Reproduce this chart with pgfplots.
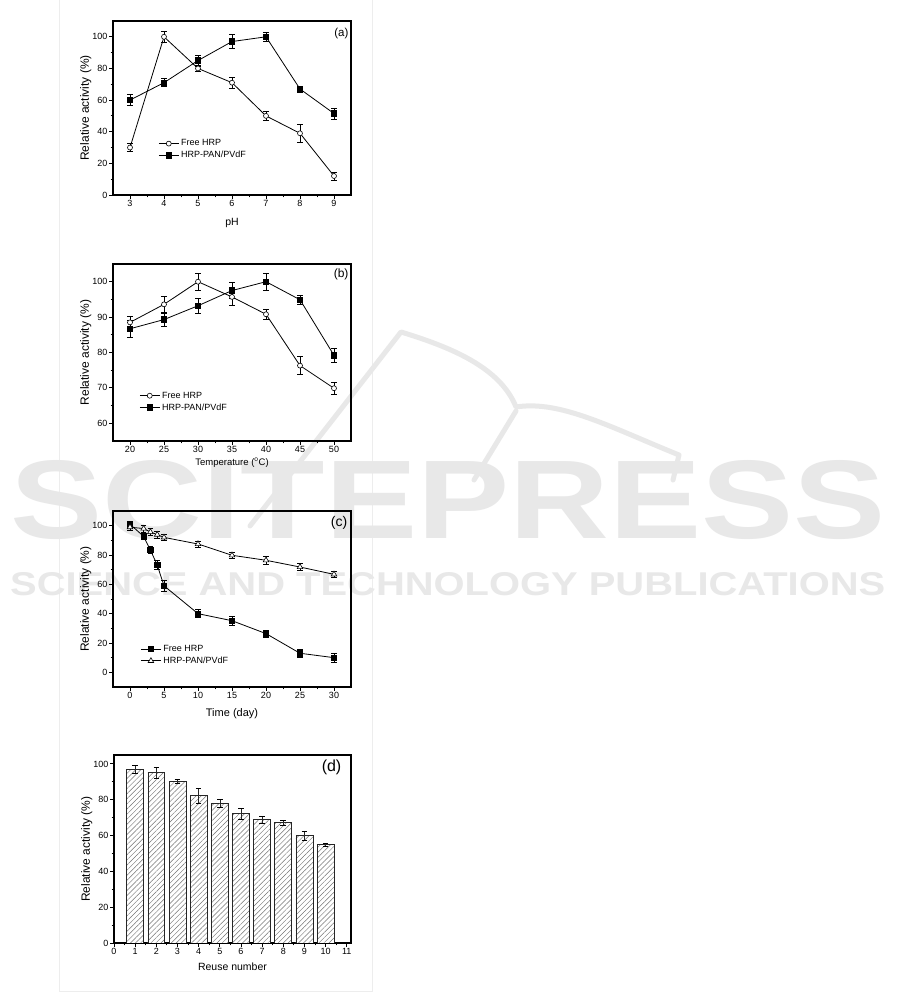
\documentclass[border=0pt]{standalone}
\usepackage{pgfplots}
\pgfplotsset{compat=1.18}
\usetikzlibrary{patterns,patterns.meta}
\usepackage{fontspec}
\setmainfont{Liberation Sans}
\definecolor{wm}{gray}{0.91}
\definecolor{pageborder}{gray}{0.93}

\pgfplotsset{
  panel/.style={
    scale only axis,
    axis line style={line width=1.1pt},
    tick align=outside,
    xtick pos=bottom, ytick pos=left,
    major tick length=4pt, minor tick length=2.5pt,
    every tick/.style={black, line width=0.9pt},
    minor x tick num=1, minor y tick num=1,
    tick label style={font=\fontsize{9}{10.5}\selectfont},
    /pgf/number format/assume math mode=true,
    xticklabel style={inner sep=1.5pt},
    yticklabel style={inner sep=1.5pt},
    ylabel={Relative activity (\%)},
    ylabel style={font=\fontsize{12}{14}\selectfont},
    ylabel shift=-4pt,
    xlabel style={font=\fontsize{10.5}{12}\selectfont},
    legend style={draw=none, fill=none, font=\fontsize{9}{10.5}\selectfont, inner sep=0pt, row sep=0pt, cells={anchor=west}},
    legend image code/.code={\draw[mark repeat=2,mark phase=2] plot coordinates {(0cm,0cm) (0.35cm,0cm) (0.7cm,0cm)};},
    error bars/error bar style={line width=0.6pt, solid},
    error bars/error mark options={rotate=90, mark size=2.8pt, line width=0.6pt, solid},
  },
  opencirc/.style={black, line width=0.8pt, mark=*, mark size=2.5pt, mark options={fill=white, line width=0.6pt}, error bars/y dir=both, error bars/y explicit},
  fillsq/.style={black, line width=0.8pt, mark=square*, mark size=2.7pt, mark options={fill=black}, error bars/y dir=both, error bars/y explicit},
  opentri/.style={black, line width=0.8pt, mark=triangle*, mark size=3.2pt, mark options={fill=white, line width=0.6pt}, error bars/y dir=both, error bars/y explicit},
}

\begin{document}
\begin{tikzpicture}
\useasboundingbox (0pt,0pt) rectangle (901pt,992pt);
\fill[white] (0pt,0pt) rectangle (901pt,992pt);
\draw[pageborder, line width=0.8pt] (59pt,993pt) -- (59pt,1pt) -- (372pt,1pt) -- (372pt,993pt);
% watermark
\begin{scope}[wm, line width=5pt, line cap=round, line join=round]
\draw (250pt,466pt) -- (401pt,660pt) .. controls (450pt,645pt) and (500pt,625pt) .. (516pt,585pt)
      .. controls (560pt,592pt) and (610pt,565pt) .. (679pt,537pt) -- (673pt,512pt);
\draw (516pt,581pt) -- (474pt,512pt);
\end{scope}
\node[anchor=south west, inner sep=0pt, text=wm] at (10pt,452pt) {\resizebox{875pt}{78pt}{\bfseries SCITEPRESS}};
\node[anchor=south west, inner sep=0pt, text=wm] at (10pt,396pt) {\resizebox{875pt}{23pt}{\bfseries SCIENCE AND TECHNOLOGY PUBLICATIONS}};

% (a)
\begin{axis}[panel, at={(113pt,797pt)}, anchor=south west, width=238pt, height=174pt,
  xmin=2.5, xmax=9.5, ymin=0, ymax=110, xtick={3,...,9}, ytick={0,20,...,100},
  xlabel={pH}, xlabel style={yshift=-6pt}, legend style={at={(0.19,0.33)}, anchor=north west}]
\addplot[opencirc] table[x index=0, y index=1, y error index=2] {
3 30 2.5
4 100 3.5
5 80 2
6 71 3.5
7 50 2.8
8 39 5.5
9 12 2.5
};
\addlegendentry{Free HRP}
\addplot[fillsq] table[x index=0, y index=1, y error index=2] {
3 60 3.5
4 71 2.5
5 85 3.5
6 97 4.5
7 100 3
8 67 1.8
9 51.5 3.5
};
\addlegendentry{HRP-PAN/PVdF}
\node[anchor=north east, font=\fontsize{11.5}{13}\selectfont, inner sep=0pt] at (rel axis cs:0.99,0.96) {(a)};
\end{axis}

% (b)
\begin{axis}[panel, at={(113pt,551pt)}, anchor=south west, width=238pt, height=177pt,
  xmin=17.5, xmax=52.5, ymin=55, ymax=105, xtick={20,25,...,50}, ytick={60,70,...,100},
  xlabel={Temperature (\textsuperscript{o}C)}, xlabel style={font=\fontsize{9.5}{11}\selectfont},
  legend style={at={(0.11,0.29)}, anchor=north west}]
\addplot[opencirc] table[x index=0, y index=1, y error index=2] {
20 88.5 1.8
25 93.6 2.2
30 100 2.4
35 95.7 2.3
40 90.8 1.5
45 76.3 2.5
50 69.9 1.6
};
\addlegendentry{Free HRP}
\addplot[fillsq] table[x index=0, y index=1, y error index=2] {
20 86.7 2.5
25 89.3 1.8
30 93.2 2.0
35 97.5 2.2
40 100 2.3
45 94.9 1.2
50 79.2 2.1
};
\addlegendentry{HRP-PAN/PVdF}
\node[anchor=north east, font=\fontsize{12}{13}\selectfont, inner sep=0pt] at (rel axis cs:0.99,0.975) {(b)};
\end{axis}

% (c)
\begin{axis}[panel, at={(113pt,305pt)}, anchor=south west, width=238pt, height=176pt,
  xmin=-2.5, xmax=32.5, ymin=-10, ymax=110, xtick={0,5,...,30}, ytick={0,20,...,100},
  xlabel={Time (day)}, xlabel style={font=\fontsize{11}{13}\selectfont, yshift=-4pt},
  legend style={at={(0.115,0.25)}, anchor=north west}]
\addplot[fillsq] table[x index=0, y index=1, y error index=2] {
0 101 1.8
2 92.7 2
3 83.4 2.5
4 73.2 3
5 59 3.5
10 40 2.8
15 35.2 2.8
20 26.4 2.2
25 13 3
30 10 3
};
\addlegendentry{Free HRP}
\addplot[opentri] table[x index=0, y index=1, y error index=2] {
0 99 2
2 98 2.5
3 95.7 2.5
4 93.9 2.2
5 92 2.2
10 87.5 2
15 79.8 1.8
20 76.4 2.5
25 71.8 2.2
30 66.8 2.2
};
\addlegendentry{HRP-PAN/PVdF}
\node[anchor=north east, font=\fontsize{14}{15}\selectfont, inner sep=0pt] at (rel axis cs:0.985,0.97) {(c)};
\end{axis}

% (d)
\begin{axis}[panel, at={(114pt,49pt)}, anchor=south west, width=237pt, height=188pt,
  xmin=0, xmax=11.2, ymin=0, ymax=105, xtick={0,...,11}, ytick={0,20,...,100},
  xlabel={Reuse number}, xlabel style={yshift=-3pt}]
\addplot[ybar, bar width=0.8, draw=black!85, line width=0.7pt, fill=white,
  postaction={pattern={Lines[angle=45, distance=3.6pt, line width=0.45pt]}, pattern color=black!55},
  error bars/y dir=both, error bars/y explicit]
  table[x index=0, y index=1, y error index=2] {
1 96.8 2.2
2 95.2 3.2
3 90.2 1.2
4 82.2 4
5 78 2
6 72.2 3.2
7 69 2
8 67.2 1.5
9 60 2.5
10 55 0.8
};
\node[anchor=north east, font=\fontsize{16}{17}\selectfont, inner sep=0pt] at (rel axis cs:0.96,0.975) {(d)};
\end{axis}
\end{tikzpicture}
\end{document}
